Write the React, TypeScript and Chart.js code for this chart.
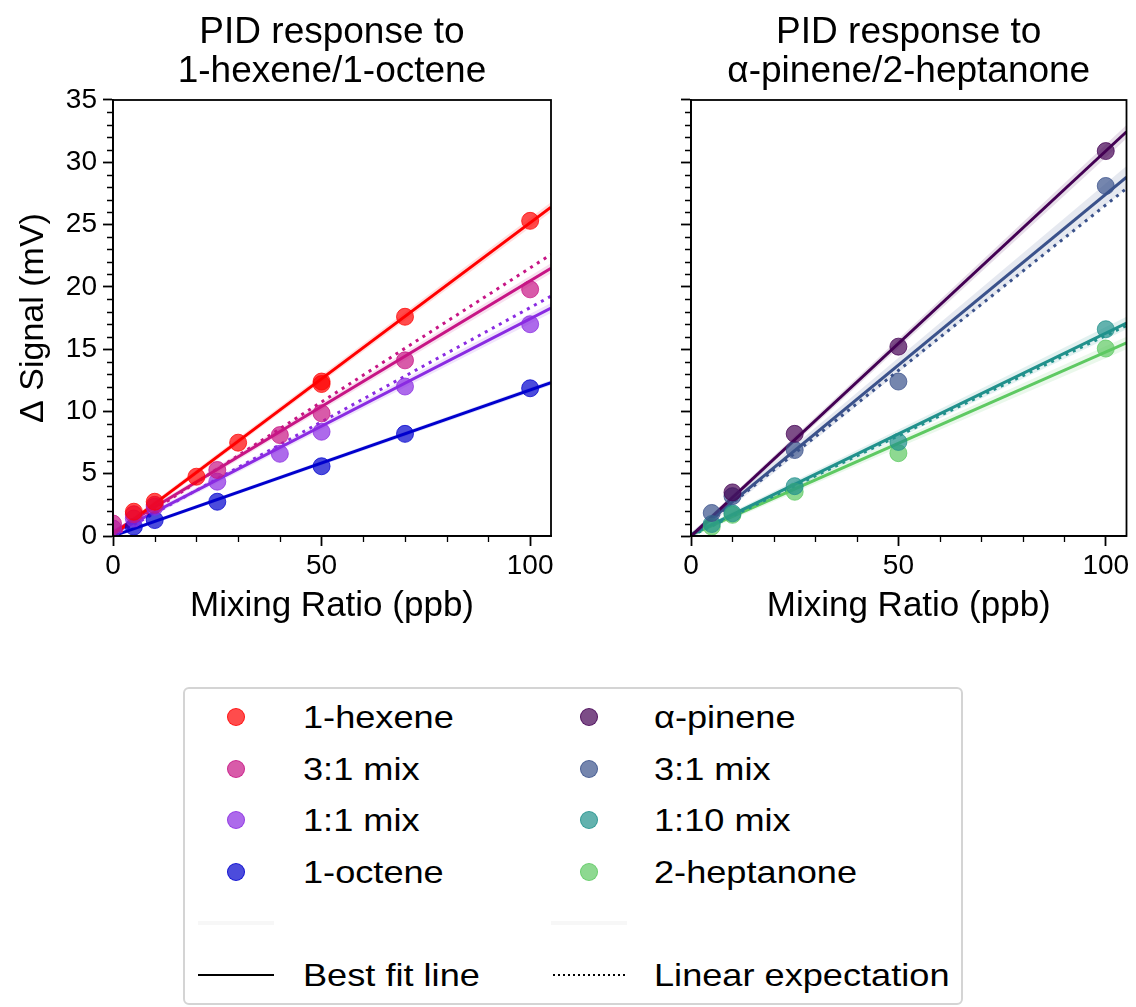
import React, { useEffect, useRef } from 'react';
import { Chart, registerables } from 'chart.js';

Chart.register(...registerables);

const FONT = '"Liberation Sans", Arial, Helvetica, sans-serif';

// ---------- shared axis values ----------
const xMin = 0;
const xMax = 105;
const yMin = 0;
const yMax = 35;
const xMajorStep = 50;
const xMinorStep = 10;
const yMajorStep = 5;
const yMinorStep = 1;
const fitX = [0, 105];

// ---------- left panel: 1-hexene / 1-octene ----------
const hexeneX = [5, 10, 20, 30, 50, 50, 70, 100];
const hexeneY = [1.95, 2.75, 4.76, 7.49, 12.2, 12.4, 17.6, 25.3];
const hexeneFit = [0.1, 26.4];
const hexeneBandLo = [-0.1, 26.0];
const hexeneBandHi = [0.3, 26.8];

const mix31LX = [0, 5, 10, 25, 40, 50, 70, 100];
const mix31LY = [1.0, 1.75, 2.5, 5.3, 8.1, 9.85, 14.1, 19.8];
const mix31LFit = [0.3, 21.5];
const mix31LBandLo = [0.1, 21.1];
const mix31LBandHi = [0.5, 21.9];
const mix31LExp = [0, 22.6];

const mix11LX = [0, 5, 10, 25, 40, 50, 70, 100];
const mix11LY = [0.6, 1.4, 2.35, 4.36, 6.6, 8.37, 12.0, 17.0];
const mix11LFit = [0.2, 18.3];
const mix11LBandLo = [0.0, 17.9];
const mix11LBandHi = [0.4, 18.7];
const mix11LExp = [0, 19.25];

const octeneX = [5, 10, 25, 50, 70, 100];
const octeneY = [0.75, 1.28, 2.75, 5.6, 8.2, 11.86];
const octeneFit = [0.0, 12.3];
const octeneBandLo = [-0.15, 12.1];
const octeneBandHi = [0.15, 12.5];

// ---------- right panel: alpha-pinene / 2-heptanone ----------
const pineneX = [10, 25, 50, 100];
const pineneY = [3.5, 8.2, 15.2, 30.9];
const pineneFit = [0.0, 32.45];
const pineneBandLo = [-0.2, 31.9];
const pineneBandHi = [0.2, 33.0];

const mix31RX = [5, 10, 25, 50, 100];
const mix31RY = [1.85, 3.2, 6.9, 12.4, 28.1];
const mix31RFit = [0.0, 28.8];
const mix31RBandLo = [-0.3, 27.9];
const mix31RBandHi = [0.3, 29.7];
const mix31RExp = [0, 27.9];

const mix110RX = [5, 10, 25, 50, 100];
const mix110RY = [0.96, 1.82, 4.0, 7.55, 16.6];
const mix110RFit = [0.1, 17.1];
const mix110RBandLo = [-0.1, 16.6];
const mix110RBandHi = [0.3, 17.6];
const mix110RExp = [0, 16.9];

const heptanoneX = [5, 10, 25, 50, 100];
const heptanoneY = [0.75, 1.7, 3.55, 6.65, 15.05];
const heptanoneFit = [0.1, 15.5];
const heptanoneBandLo = [-0.1, 15.0];
const heptanoneBandHi = [0.3, 16.0];

// ---------- colours ----------
const cHexene = [255, 0, 0];
const cMix31L = [199, 21, 133];
const cMix11L = [138, 43, 226];
const cOctene = [0, 0, 205];
const cPinene = [68, 1, 84];
const cMix31R = [59, 82, 139];
const cMix110R = [33, 145, 140];
const cHeptanone = [94, 201, 98];

const rgba = (c: number[], a: number) => `rgba(${c[0]},${c[1]},${c[2]},${a})`;
const pts = (xs: number[], ys: number[]) => xs.map((x, i) => ({ x, y: ys[i] }));

type Series = {
  label: string;
  color: number[];
  xs: number[];
  ys: number[];
  fit: number[];
  lo: number[];
  hi: number[];
  exp?: number[];
};

const leftSeries: Series[] = [
  { label: '1-hexene', color: cHexene, xs: hexeneX, ys: hexeneY, fit: hexeneFit, lo: hexeneBandLo, hi: hexeneBandHi },
  { label: '3:1 mix', color: cMix31L, xs: mix31LX, ys: mix31LY, fit: mix31LFit, lo: mix31LBandLo, hi: mix31LBandHi, exp: mix31LExp },
  { label: '1:1 mix', color: cMix11L, xs: mix11LX, ys: mix11LY, fit: mix11LFit, lo: mix11LBandLo, hi: mix11LBandHi, exp: mix11LExp },
  { label: '1-octene', color: cOctene, xs: octeneX, ys: octeneY, fit: octeneFit, lo: octeneBandLo, hi: octeneBandHi },
];

const rightSeries: Series[] = [
  { label: 'α-pinene', color: cPinene, xs: pineneX, ys: pineneY, fit: pineneFit, lo: pineneBandLo, hi: pineneBandHi },
  { label: '3:1 mix', color: cMix31R, xs: mix31RX, ys: mix31RY, fit: mix31RFit, lo: mix31RBandLo, hi: mix31RBandHi, exp: mix31RExp },
  { label: '1:10 mix', color: cMix110R, xs: mix110RX, ys: mix110RY, fit: mix110RFit, lo: mix110RBandLo, hi: mix110RBandHi, exp: mix110RExp },
  { label: '2-heptanone', color: cHeptanone, xs: heptanoneX, ys: heptanoneY, fit: heptanoneFit, lo: heptanoneBandLo, hi: heptanoneBandHi },
];

function buildDatasets(series: Series[]) {
  const ds: any[] = [];
  series.forEach((s) => {
    ds.push({
      data: pts(fitX, s.hi), showLine: true, borderWidth: 0, borderColor: 'rgba(0,0,0,0)',
      pointRadius: 0, fill: false, order: 4,
    });
    ds.push({
      data: pts(fitX, s.lo), showLine: true, borderWidth: 0, borderColor: 'rgba(0,0,0,0)',
      pointRadius: 0, fill: '-1', backgroundColor: rgba(s.color, 0.13), order: 4,
    });
  });
  series.forEach((s) => {
    if (s.exp) {
      ds.push({
        data: pts(fitX, s.exp), showLine: true, borderWidth: 3, borderColor: rgba(s.color, 1),
        borderDash: [3, 5], borderCapStyle: 'butt', pointRadius: 0, fill: false, order: 2,
      });
    }
    ds.push({
      data: pts(fitX, s.fit), showLine: true, borderWidth: 3, borderColor: rgba(s.color, 1),
      borderCapStyle: 'butt', pointRadius: 0, fill: false, order: 2,
    });
  });
  series.forEach((s) => {
    ds.push({
      data: pts(s.xs, s.ys), showLine: false, pointRadius: 8.5,
      pointBackgroundColor: rgba(s.color, 0.7), pointBorderColor: rgba(s.color, 0.75),
      pointBorderWidth: 1, fill: false, order: 0,
    });
  });
  return ds;
}

const framePlugin = {
  id: 'frame',
  afterDraw(chart: any) {
    const { ctx, chartArea: a, scales } = chart;
    ctx.save();
    ctx.strokeStyle = '#000';
    ctx.lineWidth = 1.8;
    ctx.strokeRect(a.left, a.top, a.right - a.left, a.bottom - a.top);
    ctx.lineWidth = 1.3;
    ctx.beginPath();
    for (let v = xMin; v <= xMax; v += xMinorStep) {
      if (v % xMajorStep === 0) continue;
      const p = Math.round(scales.x.getPixelForValue(v)) + 0.5;
      ctx.moveTo(p, a.bottom);
      ctx.lineTo(p, a.bottom + 6);
    }
    for (let v = yMin; v <= yMax; v += yMinorStep) {
      if (v % yMajorStep === 0) continue;
      const p = Math.round(scales.y.getPixelForValue(v)) + 0.5;
      ctx.moveTo(a.left, p);
      ctx.lineTo(a.left - 6, p);
    }
    ctx.stroke();
    ctx.restore();
  },
};

function makeOptions(title: string[], showYLabels: boolean, yWidth: number, padRight: number) {
  return {
    animation: false,
    responsive: false,
    maintainAspectRatio: false,
    events: [],
    layout: { padding: { left: 0, right: padRight, top: 0, bottom: 0 } },
    plugins: {
      legend: { display: false },
      tooltip: { enabled: false },
      title: {
        display: true,
        text: title,
        color: '#000',
        fullSize: false,
        font: { family: FONT, size: 37, weight: 'normal', lineHeight: 39 / 37 },
        padding: { top: 13, bottom: 9 },
      },
    },
    scales: {
      x: {
        type: 'linear',
        min: xMin,
        max: xMax,
        ticks: {
          stepSize: xMinorStep,
          includeBounds: false,
          autoSkip: false,
          maxRotation: 0,
          color: '#000',
          padding: 3,
          font: { family: FONT, size: 28 },
          callback: (v: number) => (v % xMajorStep === 0 ? String(v) : ''),
        },
        grid: {
          drawOnChartArea: false,
          tickLength: 10,
          tickWidth: 1.8,
          tickColor: (ctx: any) => (ctx.tick && ctx.tick.value % xMajorStep === 0 ? '#000' : 'rgba(0,0,0,0)'),
        },
        border: { color: '#000', width: 1.8 },
        title: {
          display: true,
          text: 'Mixing Ratio (ppb)',
          color: '#000',
          font: { family: FONT, size: 35 },
          padding: { top: 0, bottom: 9 },
        },
        afterFit: (s: any) => { s.height = 100; },
      },
      y: {
        type: 'linear',
        min: yMin,
        max: yMax,
        ticks: {
          stepSize: yMinorStep,
          autoSkip: false,
          color: '#000',
          padding: 6,
          font: { family: FONT, size: 28 },
          callback: (v: number) => (showYLabels && v % yMajorStep === 0 ? String(v) : ''),
        },
        grid: {
          drawOnChartArea: false,
          tickLength: 10,
          tickWidth: 1.8,
          tickColor: (ctx: any) => (ctx.tick && ctx.tick.value % yMajorStep === 0 ? '#000' : 'rgba(0,0,0,0)'),
        },
        border: { color: '#000', width: 1.8 },
        title: {
          display: showYLabels,
          text: 'Δ Signal (mV)',
          color: '#000',
          font: { family: FONT, size: 34 },
          padding: { top: 13, bottom: 0 },
        },
        afterFit: (s: any) => { s.width = yWidth; },
      },
    },
  };
}

function Panel(props: { series: Series[]; title: string[]; showY: boolean; yWidth: number; padRight: number; left: number; width: number }) {
  const ref = useRef<HTMLCanvasElement>(null);
  useEffect(() => {
    if (!ref.current) return;
    const chart = new Chart(ref.current, {
      type: 'line',
      data: { datasets: buildDatasets(props.series) },
      options: makeOptions(props.title, props.showY, props.yWidth, props.padRight) as any,
      plugins: [framePlugin],
    } as any);
    return () => chart.destroy();
  }, []);
  return (
    <canvas
      ref={ref}
      width={props.width}
      height={636}
      style={{ position: 'absolute', left: props.left, top: 0, width: props.width, height: 636 }}
    />
  );
}

const legendRowsY = [715, 766.5, 818, 869.5, 921, 972.5];
const legendColX = [234, 587];
const legendTextX = [301, 652];

function LegendText(props: { x: number; y: number; text: string }) {
  return (
    <div style={{
      position: 'absolute', left: props.x, top: props.y - 20, height: 40, lineHeight: '40px',
      whiteSpace: 'nowrap', transform: 'scaleX(1.13)', transformOrigin: '0 50%',
    }}>{props.text}</div>
  );
}

function Legend() {
  const L = 183;
  const T = 687;
  const items: any[] = [];
  [leftSeries, rightSeries].forEach((col, ci) => {
    col.forEach((s, ri) => {
      const cy = legendRowsY[ri] - T;
      items.push(
        <div key={`m${ci}${ri}`} style={{
          position: 'absolute', left: legendColX[ci] - L - 9, top: cy - 9, width: 18, height: 18,
          borderRadius: '50%', background: rgba(s.color, 0.7), boxSizing: 'border-box',
          border: `1px solid ${rgba(s.color, 0.75)}`,
        }} />,
      );
      items.push(<LegendText key={`t${ci}${ri}`} x={legendTextX[ci] - L} y={cy} text={s.label} />);
    });
    items.push(
      <div key={`b${ci}`} style={{
        position: 'absolute', left: legendColX[ci] - L - 38, top: legendRowsY[4] - T - 2, width: 76, height: 4,
        background: 'rgba(200,200,200,0.15)',
      }} />,
    );
  });
  const cy = legendRowsY[5] - T;
  items.push(
    <div key="solid" style={{ position: 'absolute', left: legendColX[0] - L - 38, top: cy - 1, width: 76, height: 2, background: '#000' }} />,
  );
  items.push(<LegendText key="solidT" x={legendTextX[0] - L} y={cy} text="Best fit line" />);
  items.push(
    <div key="dot" style={{
      position: 'absolute', left: legendColX[1] - L - 36, top: cy - 1, width: 72, height: 2,
      background: 'repeating-linear-gradient(to right, #000 0px, #000 2px, rgba(0,0,0,0) 2px, rgba(0,0,0,0) 5px)',
    }} />,
  );
  items.push(<LegendText key="dotT" x={legendTextX[1] - L} y={cy} text="Linear expectation" />);
  return (
    <div style={{
      position: 'absolute', left: L, top: T, width: 780, height: 318, boxSizing: 'border-box',
      border: '2px solid #d4d4d4', borderRadius: 6, fontFamily: FONT, fontSize: 32, color: '#000', background: '#fff',
    }}>
      {items}
    </div>
  );
}

export default function App() {
  return (
    <div style={{ position: 'absolute', left: 0, top: 0, width: 1136, height: 1007, background: '#fff', overflow: 'hidden' }}>
      <Panel series={leftSeries} title={['PID response to', '1-hexene/1-octene']} showY={true} yWidth={113} padRight={15} left={0} width={566} />
      <Panel series={rightSeries} title={['PID response to', 'α-pinene/2-heptanone']} showY={false} yWidth={91} padRight={8} left={600} width={536} />
      <Legend />
    </div>
  );
}
